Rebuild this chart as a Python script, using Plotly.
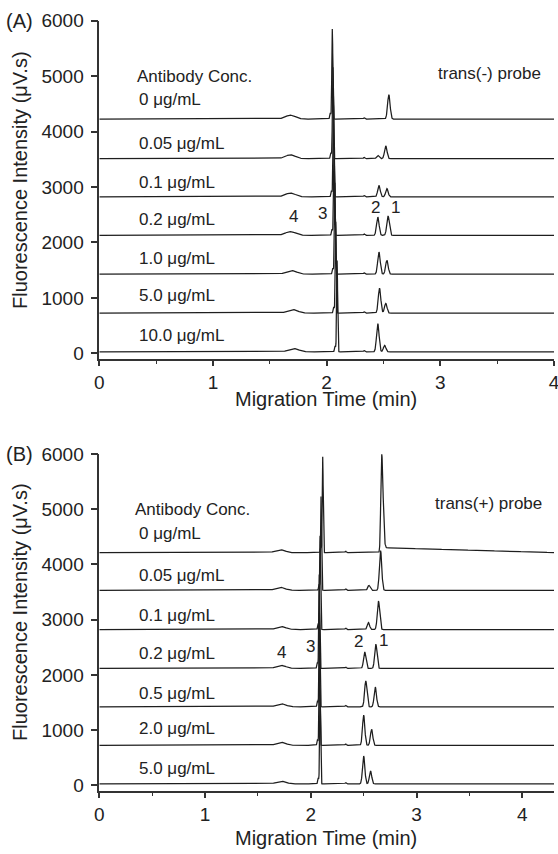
import numpy as np
import plotly.graph_objects as go

# ---------------- Data ----------------
# Panel A: trans(-) probe
A_conc = ["0 μg/mL", "0.05 μg/mL", "0.1 μg/mL", "0.2 μg/mL", "1.0 μg/mL", "5.0 μg/mL", "10.0 μg/mL"]
A_baseline = [4225, 3510, 2822, 2128, 1427, 725, 25]
A_p4_time = [1.68, 1.68, 1.68, 1.68, 1.69, 1.70, 1.71]
A_p4_height = [70, 70, 70, 68, 65, 65, 62]
A_p3_time = [2.050, 2.055, 2.060, 2.065, 2.072, 2.080, 2.092]
A_p3_height = [1630, 1650, 1650, 1650, 1650, 1650, 1650]
A_p2_time = [2.47, 2.45, 2.46, 2.45, 2.46, 2.465, 2.45]
A_p2_height = [0, 60, 205, 330, 400, 450, 510]
A_p1_time = [2.547, 2.52, 2.53, 2.54, 2.53, 2.52, 2.51]
A_p1_height = [440, 230, 150, 350, 250, 175, 120]
A_tail_height = [0, 0, 0, 0, 0, 0, 0]

# Panel B: trans(+) probe
B_conc = ["0 μg/mL", "0.05 μg/mL", "0.1 μg/mL", "0.2 μg/mL", "0.5 μg/mL", "2.0 μg/mL", "5.0 μg/mL"]
B_baseline = [4213, 3531, 2821, 2116, 1421, 723, 24]
B_p4_time = [1.71, 1.71, 1.72, 1.72, 1.72, 1.72, 1.72]
B_p4_height = [55, 55, 55, 55, 55, 55, 50]
B_p3_time = [2.113, 2.097, 2.088, 2.080, 2.082, 2.082, 2.088]
B_p3_height = [1740, 1700, 1700, 1700, 1700, 1700, 1700]
B_p2_time = [2.58, 2.55, 2.545, 2.51, 2.52, 2.50, 2.50]
B_p2_height = [0, 90, 127, 300, 470, 548, 506]
B_p1_time = [2.67, 2.66, 2.64, 2.615, 2.61, 2.575, 2.565]
B_p1_height = [1780, 720, 517, 440, 360, 290, 235]
B_tail_height = [90, 0, 0, 0, 0, 0, 0]

A_xticks = [0, 1, 2, 3, 4]
B_xticks = [0, 1, 2, 3, 4]
y_ticks = [0, 1000, 2000, 3000, 4000, 5000, 6000]

A_tmax = 4.0
B_tmax = 4.3


def trace_signal(t, base, p4t, p4h, p3t, p3h, p2t, p2h, p1t, p1h, tail, tmax):
    y = np.full_like(t, float(base))
    y += p4h * np.exp(-0.5 * ((t - p4t) / 0.045) ** 2)
    # small shoulder before main peak and minor bumps
    y += 110 * np.exp(-0.5 * ((t - (p3t - 0.018)) / 0.005) ** 2)
    y += 25 * np.exp(-0.5 * ((t - 2.33) / 0.006) ** 2)
    y += p3h * np.exp(-0.5 * ((t - p3t) / 0.0045) ** 2)
    y += p2h * np.exp(-0.5 * ((t - p2t) / 0.011) ** 2)
    sig_r = np.where(t > p1t, 0.013 if tail else 0.011, 0.008 if tail else 0.011)
    y += p1h * np.exp(-0.5 * ((t - p1t) / sig_r) ** 2)
    if tail:
        after = t > p1t
        frac = np.clip((tmax - t) / (tmax - p1t), 0, 1)
        ramp = 1 - np.exp(-np.clip(t - p1t, 0, None) / 0.01)
        y += np.where(after, tail * frac * ramp, 0)
    return y


fig = go.Figure()
line_style = dict(color="#1e1e1e", width=1.25)

tA = np.arange(0, A_tmax + 0.0005, 0.0008)
for i in range(len(A_conc)):
    y = trace_signal(tA, A_baseline[i], A_p4_time[i], A_p4_height[i], A_p3_time[i], A_p3_height[i],
                     A_p2_time[i], A_p2_height[i], A_p1_time[i], A_p1_height[i], A_tail_height[i], A_tmax)
    fig.add_trace(go.Scatter(x=tA, y=y, mode="lines", line=line_style, showlegend=False,
                             xaxis="x", yaxis="y", hoverinfo="skip"))

tB = np.arange(0, B_tmax + 0.0005, 0.0008)
for i in range(len(B_conc)):
    y = trace_signal(tB, B_baseline[i], B_p4_time[i], B_p4_height[i], B_p3_time[i], B_p3_height[i],
                     B_p2_time[i], B_p2_height[i], B_p1_time[i], B_p1_height[i], B_tail_height[i], B_tmax)
    fig.add_trace(go.Scatter(x=tB, y=y, mode="lines", line=line_style, showlegend=False,
                             xaxis="x2", yaxis="y2", hoverinfo="skip"))

FONT = "Liberation Sans, Arial, sans-serif"
axcol = "#333333"
xdom = [99.3 / 558, 554 / 558]

common_x = dict(showline=True, linecolor=axcol, linewidth=1.5, ticks="outside", ticklen=5,
                tickwidth=1.5, tickcolor=axcol, showgrid=False, zeroline=False,
                ticklabeloverflow="allow", automargin=False,
                tickfont=dict(family=FONT, size=19, color="#222"),
                minor=dict(ticks="outside", ticklen=3, dtick=0.5, tickcolor=axcol, tickwidth=1.2, showgrid=False))
common_y = dict(showline=True, linecolor=axcol, linewidth=1.5, ticks="outside", ticklen=7,
                tickwidth=1.5, tickcolor=axcol, showgrid=False, zeroline=False,
                ticklabelstandoff=3, automargin=False,
                tickvals=y_ticks, tickfont=dict(family=FONT, size=19, color="#222"))

fig.update_layout(
    width=558, height=854, margin=dict(l=0, r=0, t=0, b=0, autoexpand=False),
    paper_bgcolor="white", plot_bgcolor="white",
    xaxis=dict(domain=xdom, range=[0, A_tmax], tickvals=A_xticks, anchor="y", **common_x),
    yaxis=dict(domain=[1 - 359.3 / 854, 1 - 20.7 / 854], range=[-108, 6000], anchor="x", **common_y),
    xaxis2=dict(domain=xdom, range=[0, B_tmax], tickvals=B_xticks, anchor="y2", **common_x),
    yaxis2=dict(domain=[1 - 791 / 854, 1 - 454 / 854], range=[-103, 6000], anchor="x2", **common_y),
)

ann = []
lab_font = dict(family=FONT, size=17, color="#222")

# Panel A texts
A_label_y = [4582, 3784, 3074, 2420, 1712, 1038, 330]
ann.append(dict(x=0.31, y=4996, xref="x", yref="y", text="Antibody Conc.", showarrow=False,
                xanchor="left", yanchor="middle", font=lab_font))
for name, yy in zip(A_conc, A_label_y):
    ann.append(dict(x=0.33, y=yy, xref="x", yref="y", text=name, showarrow=False,
                    xanchor="left", yanchor="middle", font=lab_font))
ann.append(dict(x=3.90, y=5045, xref="x", yref="y", text="trans(-) probe", showarrow=False,
                xanchor="right", yanchor="middle", font=lab_font))
for txt, xx, yy in [("4", 1.708, 2474), ("3", 1.962, 2528), ("2", 2.43, 2636), ("1", 2.605, 2636)]:
    ann.append(dict(x=xx, y=yy, xref="x", yref="y", text=txt, showarrow=False, font=lab_font))

# Panel B texts
B_label_y = [4568, 3803, 3080, 2387, 1664, 1031, 307]
ann.append(dict(x=0.32, y=4991, xref="x2", yref="y2", text="Antibody Conc.", showarrow=False,
                xanchor="left", yanchor="middle", font=lab_font))
for name, yy in zip(B_conc, B_label_y):
    ann.append(dict(x=0.357, y=yy, xref="x2", yref="y2", text=name, showarrow=False,
                    xanchor="left", yanchor="middle", font=lab_font))
ann.append(dict(x=4.207, y=5100, xref="x2", yref="y2", text="trans(+) probe", showarrow=False,
                xanchor="right", yanchor="middle", font=lab_font))
for txt, xx, yy in [("4", 1.719, 2398), ("3", 1.993, 2519), ("2", 2.447, 2600), ("1", 2.69, 2628)]:
    ann.append(dict(x=xx, y=yy, xref="x2", yref="y2", text=txt, showarrow=False, font=lab_font))

# Panel letters and axis titles
title_font = dict(family=FONT, size=20, color="#222")
ann.append(dict(x=4 / 558, y=1 - 20.7 / 854, xref="paper", yref="paper", text="(A)", showarrow=False,
                xanchor="left", yanchor="middle", font=title_font))
ann.append(dict(x=4 / 558, y=1 - 454 / 854, xref="paper", yref="paper", text="(B)", showarrow=False,
                xanchor="left", yanchor="middle", font=title_font))
for yc in [180, 612]:
    ann.append(dict(x=20 / 558, y=1 - yc / 854, xref="paper", yref="paper",
                    text="Fluorescence Intensity (μV.s)", textangle=-90, showarrow=False,
                    xanchor="center", yanchor="middle", font=title_font))
for yc in [399, 837.5]:
    ann.append(dict(x=325.5 / 558, y=1 - yc / 854, xref="paper", yref="paper",
                    text="Migration Time (min)", showarrow=False,
                    xanchor="center", yanchor="middle", font=title_font))

fig.update_layout(annotations=ann)
fig.write_html("out.html")
